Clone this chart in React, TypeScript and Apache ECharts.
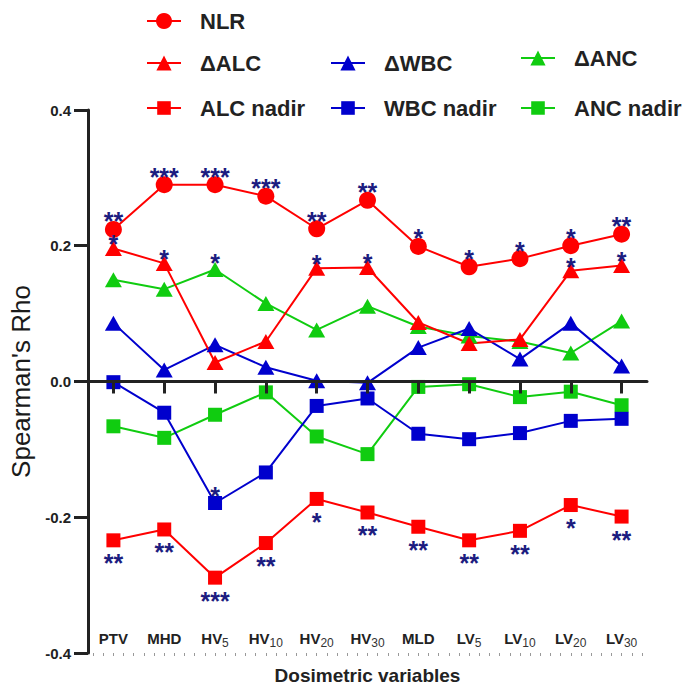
import React, { useEffect, useRef } from 'react';
import * as echarts from 'echarts';

const categories = ['PTV', 'MHD', 'HV5', 'HV10', 'HV20', 'HV30', 'MLD', 'LV5', 'LV10', 'LV20', 'LV30'];
const yTicks = [-0.4, -0.2, 0.0, 0.2, 0.4];

const nlr = [0.224, 0.29, 0.29, 0.273, 0.225, 0.267, 0.199, 0.169, 0.181, 0.2, 0.217];
const dAlc = [0.196, 0.174, 0.028, 0.059, 0.167, 0.168, 0.087, 0.056, 0.062, 0.163, 0.171];
const alcNadir = [-0.234, -0.218, -0.289, -0.238, -0.173, -0.193, -0.214, -0.234, -0.22, -0.182, -0.199];
const dWbc = [0.086, 0.017, 0.054, 0.021, 0.001, -0.002, 0.05, 0.078, 0.033, 0.086, 0.023];
const wbcNadir = [-0.001, -0.046, -0.179, -0.134, -0.036, -0.025, -0.077, -0.085, -0.076, -0.058, -0.055];
const dAnc = [0.15, 0.136, 0.165, 0.115, 0.076, 0.111, 0.081, 0.067, 0.059, 0.042, 0.089];
const ancNadir = [-0.066, -0.083, -0.049, -0.016, -0.081, -0.107, -0.008, -0.004, -0.023, -0.015, -0.035];

const nlrStars = ['**', '***', '***', '***', '**', '**', '*', '*', '*', '*', '**'];
const dAlcStars = ['*', '*', '', '', '*', '*', '', '', '', '*', '*'];
const alcNadirStars = ['**', '**', '***', '**', '*', '**', '**', '**', '**', '*', '**'];
const dWbcStars = ['', '', '', '', '', '', '', '', '', '', ''];
const wbcNadirStars = ['', '', '*', '', '', '', '', '', '', '', ''];
const dAncStars = ['', '', '*', '', '', '', '', '', '', '', ''];
const ancNadirStars = ['', '', '', '', '', '', '', '', '', '', ''];

const RED = '#ff0000';
const BLUE = '#0000cd';
const GREEN = '#10cc10';
const STAR = '#1c1c80';
const FONT = '"Liberation Sans", Arial, Helvetica, sans-serif';

function catLabel(c: string): string {
  const m = c.match(/^([A-Z]+?)(\d+)$/);
  if (m && (c.startsWith('HV') || c.startsWith('LV'))) return `{b|${m[1]}}{s|${m[2]}}`;
  return `{b|${c}}`;
}

export default function App() {
  const ref = useRef<HTMLDivElement>(null);
  useEffect(() => {
    if (!ref.current) return;
    const chart = echarts.init(ref.current, undefined, { renderer: 'svg' });

    const mk = (
      name: string,
      data: number[],
      stars: string[],
      color: string,
      symbol: string,
      size: number | number[],
      starDy: number
    ) => ({
      name,
      type: 'line',
      xAxisIndex: 0,
      data,
      symbol,
      symbolSize: size,
      showAllSymbol: true,
      lineStyle: { color, width: 2 },
      itemStyle: { color },
      label: {
        show: true,
        position: 'inside',
        offset: [0, starDy],
        formatter: (p: any) => stars[p.dataIndex] || '',
        color: STAR,
        fontSize: 25,
        lineHeight: 14,
        fontWeight: 'bold',
        fontFamily: FONT,
      },
      emphasis: { disabled: true },
    });

    const series = [
      mk('ΔANC', dAnc, dAncStars, GREEN, 'triangle', [17, 15], -7),
      mk('ANC nadir', ancNadir, ancNadirStars, GREEN, 'rect', 14, -7),
      mk('ΔWBC', dWbc, dWbcStars, BLUE, 'triangle', [17, 15], -7),
      mk('WBC nadir', wbcNadir, wbcNadirStars, BLUE, 'rect', 14, -7),
      mk('ΔALC', dAlc, dAlcStars, RED, 'triangle', [17, 15], -4),
      mk('ALC nadir', alcNadir, alcNadirStars, RED, 'rect', 14, 23),
      mk('NLR', nlr, nlrStars, RED, 'circle', 17, -8),
    ];

    const legendItems = [
      { name: 'NLR', left: 146, top: 10, h: 20 },
      { name: 'ΔALC', left: 146, top: 52, h: 19 },
      { name: 'ALC nadir', left: 146, top: 97, h: 17 },
      { name: 'ΔWBC', left: 330, top: 52, h: 19 },
      { name: 'WBC nadir', left: 330, top: 97, h: 17 },
      { name: 'ΔANC', left: 520, top: 47, h: 19 },
      { name: 'ANC nadir', left: 520, top: 97, h: 17 },
    ];

    const legend = legendItems.map((l) => ({
      data: [l.name],
      left: l.left,
      top: l.top,
      padding: 0,
      itemWidth: 34,
      itemHeight: l.h,
      selectedMode: false,
      textStyle: {
        fontSize: 22,
        fontWeight: 'bold',
        color: '#222',
        fontFamily: FONT,
        padding: [0, 0, 0, 14],
      },
    }));

    const minorTicks: number[] = [];
    for (let i = 0; i < 55; i++) minorTicks.push(i + 0.5);

    chart.setOption({
      animation: false,
      backgroundColor: '#ffffff',
      textStyle: { fontFamily: FONT },
      legend,
      grid: { left: 88, right: 44, top: 110, bottom: 33, containLabel: false, outerBoundsMode: 'none' },
      xAxis: [
        {
          type: 'category',
          data: categories,
          position: 'bottom',
          boundaryGap: true,
          axisLine: { show: true, onZero: true, lineStyle: { color: '#222', width: 3 } },
          axisTick: { show: true, alignWithLabel: true, interval: 0, length: 12, lineStyle: { color: '#222', width: 3 } },
          axisLabel: { show: false },
          splitLine: { show: false },
          z: 5,
        },
        {
          type: 'value',
          min: 0,
          max: 55,
          position: 'bottom',
          axisLine: { show: false, onZero: true },
          axisTick: { show: true, customValues: minorTicks, length: 3, lineStyle: { color: '#999', width: 1 } },
          axisLabel: { show: false },
          splitLine: { show: false },
        },
        {
          type: 'category',
          data: categories,
          position: 'bottom',
          boundaryGap: true,
          axisLine: { show: false, onZero: false },
          axisTick: { show: false },
          splitLine: { show: false },
          axisLabel: {
            show: true,
            inside: true,
            interval: 0,
            margin: 4,
            formatter: (v: string) => catLabel(v),
            rich: {
              b: { fontSize: 15, fontWeight: 'bold', color: '#222', fontFamily: FONT, lineHeight: 22, verticalAlign: 'middle' },
              s: { fontSize: 12, fontWeight: 'normal', color: '#333', fontFamily: FONT, lineHeight: 12, padding: [10, 0, 0, 0], verticalAlign: 'bottom' },
            },
          },
          name: 'Dosimetric variables',
          nameLocation: 'middle',
          nameGap: 13,
          nameTextStyle: { fontSize: 19, lineHeight: 19, fontWeight: 'bold', color: '#222', fontFamily: FONT, verticalAlign: 'top' },
        },
      ],
      yAxis: {
        type: 'value',
        min: -0.4,
        max: 0.4,
        interval: 0.2,
        axisLine: { show: true, onZero: false, lineStyle: { color: '#222', width: 3 } },
        axisTick: { show: true, length: 14, lineStyle: { color: '#222', width: 3 } },
        axisLabel: {
          margin: 17,
          fontSize: 15,
          fontWeight: 'bold',
          color: '#222',
          fontFamily: FONT,
          formatter: (v: number) => {
            const t = yTicks.find((x) => Math.abs(x - v) < 1e-9);
            return (t !== undefined ? t : v).toFixed(1);
          },
        },
        splitLine: { show: false },
        name: "Spearman's Rho",
        nameLocation: 'middle',
        nameGap: 51,
        nameTextStyle: { fontSize: 26, color: '#1a1a1a', fontFamily: FONT },
      },
      series,
    });
    return () => chart.dispose();
  }, []);
  return <div ref={ref} style={{ position: 'fixed', left: 0, top: 0, width: 691, height: 686 }} />;
}
